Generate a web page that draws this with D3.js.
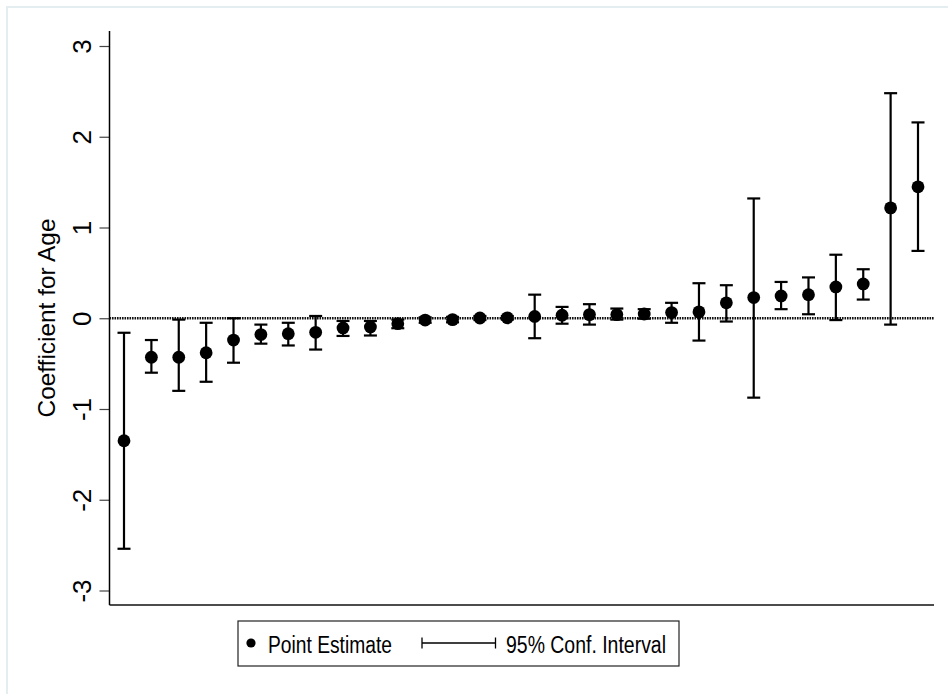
<!DOCTYPE html>
<html>
<head>
<meta charset="utf-8">
<script src="https://cdn.jsdelivr.net/npm/d3@7"></script>
<style>
body { margin:0; background:#fff; }
text { font-family: "Liberation Sans", Arial, sans-serif; fill:#000; }
</style>
</head>
<body>
<div class="plot"></div>
<script>
// point estimates and 95% CI bounds, sorted by estimate
var est = [-1.35,-0.43,-0.43,-0.38,-0.24,-0.18,-0.17,-0.155,-0.107,-0.096,
	-0.06,-0.02,-0.015,0.003,0.005,0.02,0.033,0.04,0.04,0.047,
	0.063,0.07,0.17,0.228,0.246,0.26,0.345,0.378,1.216,1.448];
var lo = [-2.54,-0.6,-0.8,-0.70,-0.49,-0.28,-0.30,-0.345,-0.195,-0.19,
	-0.11,-0.05,-0.045,-0.02,-0.015,-0.22,-0.06,-0.07,-0.015,-0.005,
	-0.05,-0.246,-0.036,-0.875,0.10,0.044,-0.02,0.206,-0.07,0.742];
var hi = [-0.16,-0.24,-0.015,-0.05,0.0,-0.07,-0.05,0.025,-0.03,-0.03,
	-0.015,0.01,0.015,0.025,0.025,0.26,0.125,0.155,0.107,0.10,
	0.17,0.386,0.364,1.32,0.40,0.45,0.70,0.54,2.48,2.158];
var yTicks = [-3,-2,-1,0,1,2,3];
var legendLabels = ["Point Estimate", "95% Conf. Interval"];

var W = 948, H = 694;
var m = {t:31, l:109.5, r:934, b:605};

var data = est.map(function(d,i){ return {i:i+1, est:d, lo:lo[i], hi:hi[i]}; });

var svg = d3.select('.plot').append('svg')
	.attr('width', W)
	.attr('height', H);

// faint outer frame
svg.append('rect')
	.attr('x', 7).attr('y', 7)
	.attr('width', W + 10).attr('height', H + 10)
	.style('fill', 'none')
	.style('stroke', '#e4eef0')
	.style('stroke-width', 2);

var x = d3.scaleLinear().domain([1, 30]).range([124, 918]);
var y = d3.scaleLinear().domain([-3, 3]).range([590.5, 46]);

// y axis (plain hyphen for negatives, like the original)
var yAxis = d3.axisLeft(y).tickValues(yTicks).tickSize(10).tickSizeOuter(0)
	.tickFormat(function(d){ return String(d); });
var gy = svg.append('g')
	.attr('transform', 'translate(' + m.l + ',0)')
	.call(yAxis);
gy.select('.domain').remove();
gy.selectAll('.tick line').style('stroke', '#444').style('stroke-width', 1.2);
gy.selectAll('.tick text')
	.attr('x', null).attr('dy', null)
	.attr('transform', 'translate(-19,0) rotate(-90)')
	.attr('text-anchor', 'middle')
	.style('font-size', '26px');

svg.append('line')
	.attr('x1', m.l).attr('x2', m.l)
	.attr('y1', m.t).attr('y2', m.b)
	.style('stroke', '#000').style('stroke-width', 1.5);
svg.append('line')
	.attr('x1', m.l).attr('x2', m.r)
	.attr('y1', m.b).attr('y2', m.b)
	.style('stroke', '#111').style('stroke-width', 1.5);

svg.append('text')
	.attr('transform', 'translate(55,318) rotate(-90)')
	.attr('text-anchor', 'middle')
	.attr('textLength', 199)
	.attr('lengthAdjust', 'spacingAndGlyphs')
	.style('font-size', '24px')
	.text('Coefficient for Age');

// zero reference line
svg.append('line')
	.attr('x1', m.l).attr('x2', m.r)
	.attr('y1', y(0)).attr('y2', y(0))
	.style('stroke', '#111')
	.style('stroke-width', 2.5)
	.style('stroke-dasharray', '1.6,0.9');

// confidence intervals
var ci = svg.append('g').selectAll('g.ci')
	.data(data)
	.enter().append('g').attr('class', 'ci')
	.style('stroke', '#000').style('stroke-width', 2.2);
ci.append('line')
	.attr('x1', d=>x(d.i)).attr('x2', d=>x(d.i))
	.attr('y1', d=>y(d.lo)).attr('y2', d=>y(d.hi));
ci.append('line')
	.attr('x1', d=>x(d.i)-6.5).attr('x2', d=>x(d.i)+6.5)
	.attr('y1', d=>y(d.lo)).attr('y2', d=>y(d.lo));
ci.append('line')
	.attr('x1', d=>x(d.i)-6.5).attr('x2', d=>x(d.i)+6.5)
	.attr('y1', d=>y(d.hi)).attr('y2', d=>y(d.hi));

svg.append('g').selectAll('circle')
	.data(data)
	.enter().append('circle')
	.attr('cx', d=>x(d.i))
	.attr('cy', d=>y(d.est))
	.attr('r', 6.4)
	.style('fill', '#000');

// legend
var lg = svg.append('g');
lg.append('rect')
	.attr('x', 238).attr('y', 621)
	.attr('width', 441).attr('height', 45)
	.style('fill', '#fff')
	.style('stroke', '#222').style('stroke-width', 1.2);
lg.append('circle')
	.attr('cx', 251).attr('cy', 643).attr('r', 4.6)
	.style('fill', '#000');
lg.append('text')
	.attr('x', 268).attr('y', 653)
	.attr('textLength', 124)
	.attr('lengthAdjust', 'spacingAndGlyphs')
	.style('font-size', '23px')
	.text(legendLabels[0]);
lg.append('path')
	.attr('d', 'M422,637.5V648.5M422,643H495.5M495.5,637.5V648.5')
	.style('fill', 'none')
	.style('stroke', '#000').style('stroke-width', 1.3);
lg.append('text')
	.attr('x', 506).attr('y', 653)
	.attr('textLength', 160)
	.attr('lengthAdjust', 'spacingAndGlyphs')
	.style('font-size', '23px')
	.text(legendLabels[1]);
</script>
</body>
</html>
